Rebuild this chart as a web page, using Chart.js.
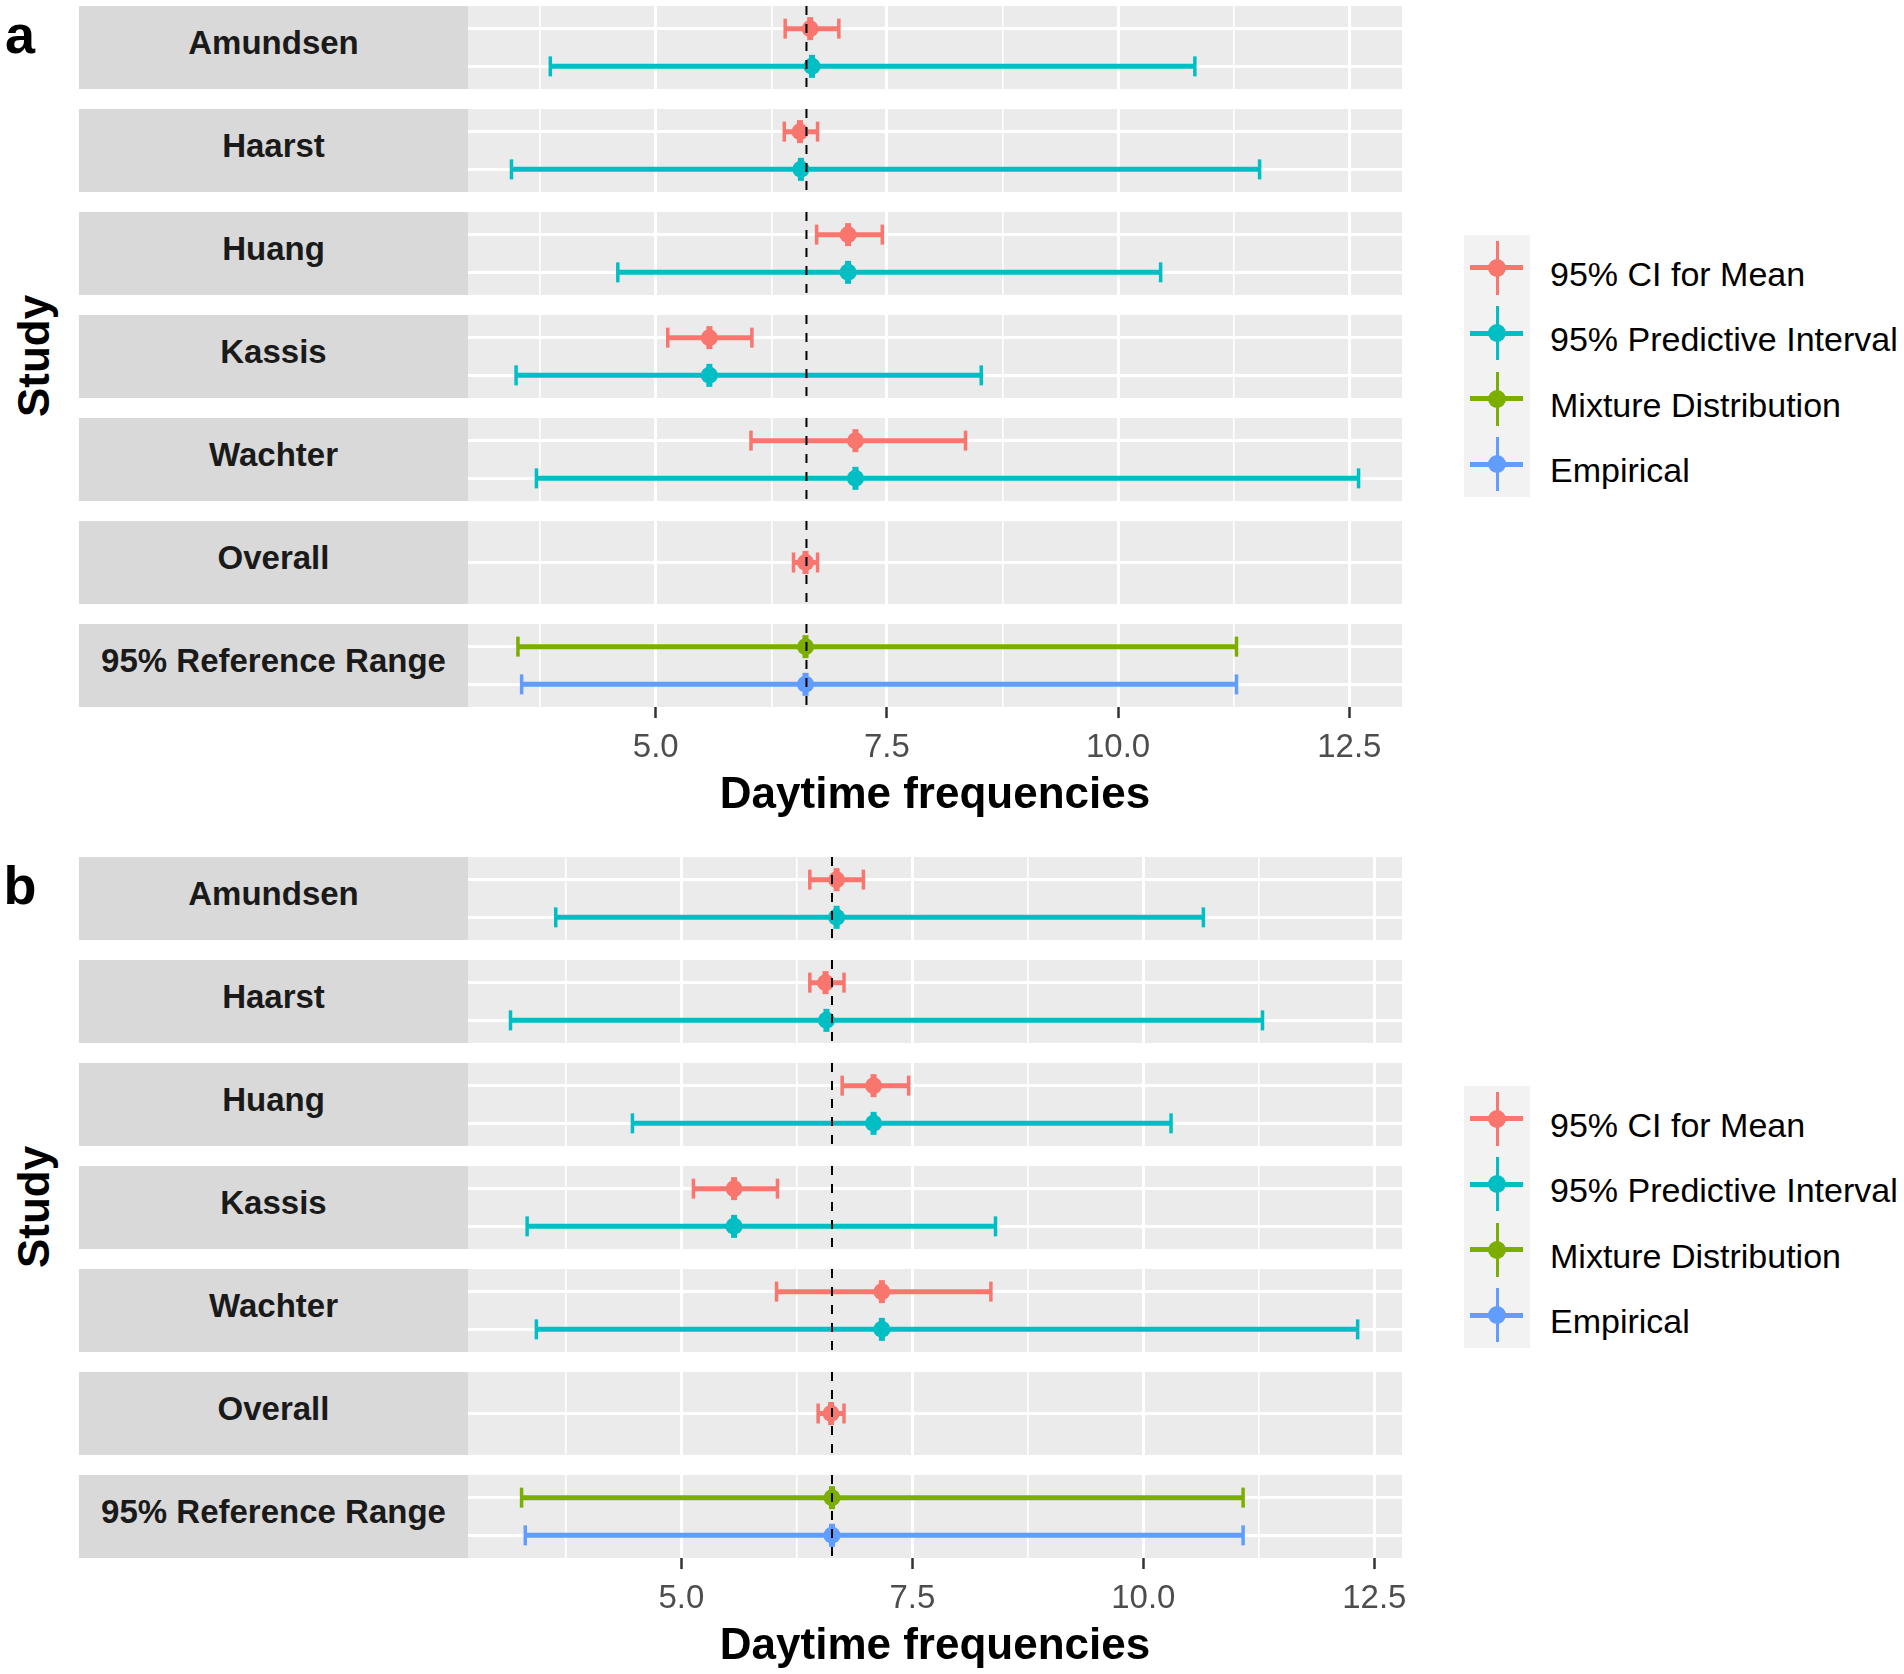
<!DOCTYPE html>
<html>
<head>
<meta charset="utf-8">
<script src="https://cdn.jsdelivr.net/npm/chart.js"></script>
<style>
  body { margin: 0; background: #fff; width: 1904px; height: 1674px; position: relative; overflow: hidden;
         font-family: "Liberation Sans", Arial, sans-serif; }
  .strip { position: absolute; left: 79px; width: 389px; background: #D9D9D9; color: #1A1A1A;
           font-weight: bold; font-size: 33px; display: flex; align-items: center; justify-content: center; }
  .strip span { transform: translateY(-5px); }
  .facet { position: absolute; }
  .tag { position: absolute; font-weight: bold; font-size: 54px; color: #000; transform: translate(-50%, -50%); line-height: 1; }
  .ytitle { position: absolute; font-weight: bold; font-size: 44px; color: #000; white-space: nowrap;
            transform: translate(-50%, -50%) rotate(-90deg); line-height: 1; }
  .lkey { position: absolute; left: 1464px; width: 66px; background: #F2F2F2; }
  .lkey .h { position: absolute; left: 6px; width: 53px; height: 5px; top: 50%; margin-top: -2.5px; }
  .lkey .v { position: absolute; left: 31.5px; width: 3px; height: 54px; top: 50%; margin-top: -27px; }
  .lkey .p { position: absolute; left: 24px; width: 18px; height: 18px; top: 50%; margin-top: -9px; border-radius: 50%; }
  .ltext { position: absolute; left: 1550px; font-size: 34px; color: #000; white-space: nowrap; transform: translateY(-50%); line-height: 1; }
</style>
</head>
<body>
<script>
// 研究名称（分面）
const studies = ['Amundsen', 'Haarst', 'Huang', 'Kassis', 'Wachter', 'Overall', '95% Reference Range'];
const seriesNames = ['95% CI for Mean', '95% Predictive Interval', 'Mixture Distribution', 'Empirical'];
const seriesColors = ['#F8766D', '#00BFC4', '#7CAE00', '#619CFF'];
const xTickValues = [5, 7.5, 10, 12.5];
const xTickLabels = ['5.0', '7.5', '10.0', '12.5'];

// 面板 a
const aCiMean = [6.67, 6.56, 7.08, 5.58, 7.16, 6.62];
const aCiLow  = [6.40, 6.39, 6.74, 5.13, 6.03, 6.49];
const aCiHigh = [6.98, 6.75, 7.45, 6.04, 8.35, 6.75];
const aPiMean = [6.69, 6.57, 7.08, 5.58, 7.16];
const aPiLow  = [3.86, 3.44, 4.59, 3.49, 3.71];
const aPiHigh = [10.83, 11.53, 10.46, 8.52, 12.60];
const aRefMean = [6.62, 6.62];   // Mixture, Empirical
const aRefLow  = [3.51, 3.55];
const aRefHigh = [11.28, 11.28];
const aOverall = 6.63;
const aXRange = [2.97, 13.07];

// 面板 b
const bCiMean = [6.68, 6.56, 7.08, 5.57, 7.17, 6.62];
const bCiLow  = [6.39, 6.39, 6.74, 5.13, 6.03, 6.48];
const bCiHigh = [6.97, 6.76, 7.46, 6.04, 8.35, 6.76];
const bPiMean = [6.68, 6.57, 7.08, 5.57, 7.17];
const bPiLow  = [3.64, 3.15, 4.47, 3.33, 3.43];
const bPiHigh = [10.65, 11.29, 10.30, 8.40, 12.32];
const bRefMean = [6.63, 6.63];
const bRefLow  = [3.27, 3.31];
const bRefHigh = [11.08, 11.08];
const bOverall = 6.63;
const bXRange = [2.69, 12.80];

// 布局
const FACET_H = 83, FACET_STEP = 103, PANEL_L = 468, PANEL_W = 934, AXIS_H = 115, SIDE = 40;
const FONT = '"Liberation Sans", Arial, sans-serif';
const minorTicks = xTickValues.map(v => v - 1.25);
const gridValues = minorTicks.concat(xTickValues).sort((p, q) => p - q);

function row(si, mean, low, high) {
    return { name: seriesNames[si], color: seriesColors[si], mean: mean, low: low, high: high };
}

function facetRows(p, s) {
    if (s < 5) return [row(0, p.ciMean[s], p.ciLow[s], p.ciHigh[s]), row(1, p.piMean[s], p.piLow[s], p.piHigh[s])];
    if (s === 5) return [row(0, p.ciMean[s], p.ciLow[s], p.ciHigh[s])];
    return [row(2, p.refMean[0], p.refLow[0], p.refHigh[0]), row(3, p.refMean[1], p.refLow[1], p.refHigh[1])];
}

function makeFacet(p, s, top) {
    const rows = facetRows(p, s);
    const isLast = s === studies.length - 1;

    const strip = document.createElement('div');
    strip.className = 'strip';
    strip.style.top = top + 'px';
    strip.style.height = FACET_H + 'px';
    strip.innerHTML = '<span>' + studies[s] + '</span>';
    document.body.appendChild(strip);

    // 画布左右各留 SIDE 像素，给刻度标签溢出用
    const canvas = document.createElement('canvas');
    canvas.className = 'facet';
    canvas.width = PANEL_W + 2 * SIDE;
    canvas.height = FACET_H + (isLast ? AXIS_H : 0);
    canvas.style.left = (PANEL_L - SIDE) + 'px';
    canvas.style.top = top + 'px';
    document.body.appendChild(canvas);

    const datasets = [];
    rows.forEach((r, i) => {
        datasets.push({
            data: [{ x: r.low, y: i }, { x: r.mean, y: i }, { x: r.high, y: i }],
            showLine: true,
            borderColor: r.color,
            borderWidth: 5,
            pointStyle: c => c.dataIndex === 1 ? 'circle' : 'line',
            pointRadius: c => c.dataIndex === 1 ? 8.5 : 10,
            pointRotation: 90,
            pointBorderWidth: c => c.dataIndex === 1 ? 0 : 3.5,
            pointBackgroundColor: r.color,
            pointBorderColor: r.color
        });
        datasets.push({
            data: [{ x: r.mean, y: i }],
            showLine: false,
            pointStyle: 'line',
            pointRotation: 90,
            pointRadius: 11.5,
            pointBorderWidth: 6,
            pointBorderColor: r.color
        });
    });

    const panelBg = {
        id: 'panelBg',
        beforeDraw(chart) {
            const a = chart.chartArea, ctx = chart.ctx;
            ctx.save();
            ctx.fillStyle = '#EBEBEB';
            ctx.fillRect(a.left, a.top, a.right - a.left, a.bottom - a.top);
            ctx.restore();
        }
    };
    const refLine = {
        id: 'refLine',
        afterDatasetsDraw(chart) {
            const a = chart.chartArea, ctx = chart.ctx;
            const x = chart.scales.x.getPixelForValue(p.overall);
            ctx.save();
            ctx.strokeStyle = '#000';
            ctx.lineWidth = 2;
            ctx.setLineDash([9, 9]);
            ctx.beginPath();
            ctx.moveTo(x, a.top);
            ctx.lineTo(x, a.bottom);
            ctx.stroke();
            ctx.restore();
        }
    };

    new Chart(canvas, {
        type: 'scatter',
        data: { datasets: datasets },
        options: {
            responsive: false,
            devicePixelRatio: 1,
            animation: false,
            events: [],
            layout: { padding: { left: SIDE, right: SIDE, top: 0, bottom: 0 }, autoPadding: false },
            plugins: { legend: { display: false }, tooltip: { enabled: false } },
            scales: {
                x: {
                    type: 'linear',
                    min: p.xRange[0],
                    max: p.xRange[1],
                    afterBuildTicks: sc => { sc.ticks = gridValues.map(v => ({ value: v })); },
                    afterFit: sc => {
                        sc.height = isLast ? AXIS_H : 0;
                        sc.paddingLeft = 0;
                        sc.paddingRight = 0;
                    },
                    border: { display: false },
                    grid: {
                        color: '#FFFFFF',
                        lineWidth: c => xTickValues.includes(c.tick.value) ? 3 : 1.6,
                        drawTicks: isLast,
                        tickLength: 11,
                        tickWidth: 2.5,
                        tickColor: c => xTickValues.includes(c.tick.value) ? '#333333' : 'rgba(0,0,0,0)'
                    },
                    ticks: {
                        display: isLast,
                        autoSkip: false,
                        maxRotation: 0,
                        padding: 10,
                        color: '#4D4D4D',
                        font: { size: 33, family: FONT },
                        callback: v => {
                            const k = xTickValues.indexOf(v);
                            return k >= 0 ? xTickLabels[k] : '';
                        }
                    },
                    title: {
                        display: isLast,
                        text: 'Daytime frequencies',
                        color: '#000',
                        font: { size: 44, weight: 'bold', family: FONT },
                        padding: { top: 0, bottom: 0 }
                    }
                },
                y: {
                    type: 'linear',
                    reverse: true,
                    min: -0.6,
                    max: rows.length - 1 + 0.6,
                    afterBuildTicks: sc => { sc.ticks = rows.map((r, i) => ({ value: i })); },
                    afterFit: sc => { sc.width = 0; },
                    border: { display: false },
                    grid: { color: '#FFFFFF', lineWidth: 3, drawTicks: false },
                    ticks: { display: false }
                }
            }
        },
        plugins: [panelBg, refLine]
    });
}

function makeLegend(top) {
    const keyH = 65.5;
    seriesNames.forEach((name, i) => {
        const key = document.createElement('div');
        key.className = 'lkey';
        key.style.top = (top + i * keyH) + 'px';
        key.style.height = keyH + 'px';
        key.innerHTML = '<div class="h"></div><div class="v"></div><div class="p"></div>';
        key.querySelectorAll('div').forEach(d => { d.style.background = seriesColors[i]; });
        document.body.appendChild(key);

        const t = document.createElement('div');
        t.className = 'ltext';
        t.style.top = (top + i * keyH + keyH / 2 + 6) + 'px';
        t.textContent = name;
        document.body.appendChild(t);
    });
}

function makePanel(p) {
    studies.forEach((s, i) => makeFacet(p, i, p.top + i * FACET_STEP));

    const tag = document.createElement('div');
    tag.className = 'tag';
    tag.style.left = '20px';
    tag.style.top = (p.top + 28) + 'px';
    tag.textContent = p.tag;
    document.body.appendChild(tag);

    const yt = document.createElement('div');
    yt.className = 'ytitle';
    yt.style.left = '34px';
    yt.style.top = (p.top + 350) + 'px';
    yt.textContent = 'Study';
    document.body.appendChild(yt);

    makeLegend(p.top + 229);
}

makePanel({ tag: 'a', top: 6, ciMean: aCiMean, ciLow: aCiLow, ciHigh: aCiHigh, piMean: aPiMean, piLow: aPiLow,
            piHigh: aPiHigh, refMean: aRefMean, refLow: aRefLow, refHigh: aRefHigh, overall: aOverall, xRange: aXRange });
makePanel({ tag: 'b', top: 857, ciMean: bCiMean, ciLow: bCiLow, ciHigh: bCiHigh, piMean: bPiMean, piLow: bPiLow,
            piHigh: bPiHigh, refMean: bRefMean, refLow: bRefLow, refHigh: bRefHigh, overall: bOverall, xRange: bXRange });
</script>
</body>
</html>
